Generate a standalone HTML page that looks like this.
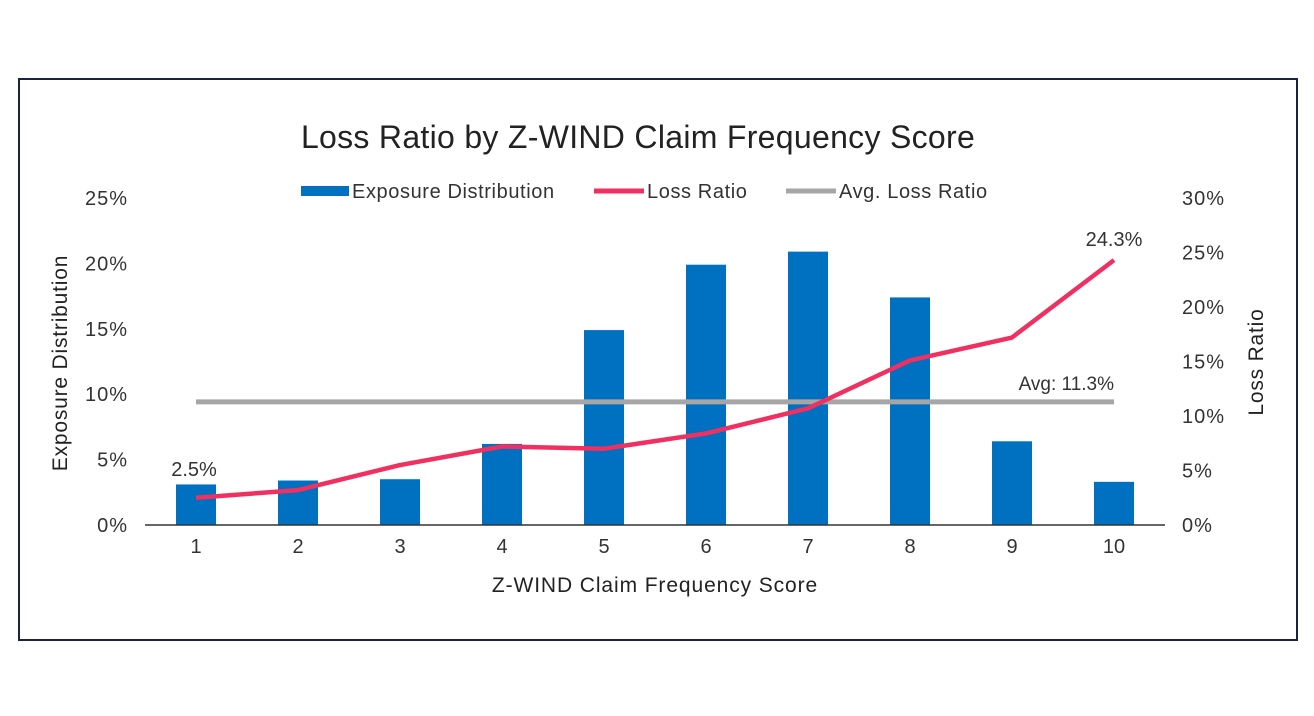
<!DOCTYPE html>
<html><head><meta charset="utf-8"><style>
body{margin:0;background:#fff;width:1314px;height:716px;overflow:hidden;font-family:"Liberation Sans",sans-serif}
#frame{position:absolute;left:18px;top:78px;width:1276px;height:559px;border:2px solid #1a2346}
</style></head><body>
<div id="frame"></div>
<svg id="chart" width="1314" height="716" style="position:absolute;left:0;top:0">
<text x="638" y="148" font-size="32" letter-spacing="0.3" text-anchor="middle" fill="#222">Loss Ratio by Z-WIND Claim Frequency Score</text>
<g font-size="20" letter-spacing="0.6" fill="#333">
<rect x="301" y="186" width="48" height="10" fill="#0070c0"/>
<text x="352" y="198">Exposure Distribution</text>
<line x1="594" y1="191" x2="644" y2="191" stroke="#f03060" stroke-width="5"/>
<text x="647" y="198">Loss Ratio</text>
<line x1="786" y1="191" x2="836" y2="191" stroke="#a6a6a6" stroke-width="5"/>
<text x="839" y="198">Avg. Loss Ratio</text>
</g>
<text transform="translate(67,363) rotate(-90)" font-size="21" letter-spacing="0.8" text-anchor="middle" fill="#222">Exposure Distribution</text>
<text transform="translate(1263,362) rotate(-90)" font-size="21" letter-spacing="0.8" text-anchor="middle" fill="#222">Loss Ratio</text>
<text x="655" y="592" font-size="21" letter-spacing="0.9" text-anchor="middle" fill="#222">Z-WIND Claim Frequency Score</text>
<g id="g"></g>
</svg>
<script>
const categories=["1","2","3","4","5","6","7","8","9","10"];
const exposure=[3.1,3.4,3.5,6.2,14.9,19.9,20.9,17.4,6.4,3.3];
const lossRatio=[2.5,3.2,5.5,7.2,7.0,8.4,10.7,15.1,17.2,24.3];
const avgLoss=[11.3];
const leftTicks=[0,5,10,15,20,25];
const rightTicks=[0,5,10,15,20,25,30];
const NS="http://www.w3.org/2000/svg";
const g=document.getElementById('g');
const y0=525,yTop=198;
const yL=v=>y0-(v/25)*(y0-yTop);
const yR=v=>y0-(v/30)*(y0-yTop);
const xC=i=>196+i*102;
function mk(t,a){const e=document.createElementNS(NS,t);for(const k in a)e.setAttribute(k,a[k]);g.appendChild(e);return e;}
leftTicks.forEach(v=>{const t=mk('text',{x:128,y:yL(v)+7,'font-size':20,'letter-spacing':1,'text-anchor':'end',fill:'#333'});t.textContent=v+'%';

});
rightTicks.forEach(v=>{const t=mk('text',{x:1182,y:yR(v)+7,'font-size':20,'letter-spacing':1,fill:'#333'});t.textContent=v+'%';

});
exposure.forEach((v,i)=>{const r=mk('rect',{x:xC(i)-20,y:yL(v),width:40,height:y0-yL(v),fill:'#0070c0'});

});
const ax=mk('line',{x1:145,y1:y0,x2:1165,y2:y0,stroke:'#333','stroke-width':1.5});


categories.forEach((c,i)=>{const t=mk('text',{x:xC(i),y:553,'font-size':20,'text-anchor':'middle',fill:'#333'});t.textContent=c;

});
const ay=yR(avgLoss[0]);
const al=mk('line',{x1:xC(0),y1:ay,x2:xC(9),y2:ay,stroke:'#a6a6a6','stroke-width':5});


const at=mk('text',{x:xC(9),y:ay-12,'font-size':19,'text-anchor':'end',fill:'#333'});at.textContent='Avg: '+avgLoss[0]+'%';


const pl=mk('polyline',{points:lossRatio.map((v,i)=>xC(i)+','+yR(v)).join(' '),fill:'none',stroke:'#f03060','stroke-width':4.5,'stroke-linejoin':'round'});


const l1=mk('text',{x:xC(0)-2,y:yR(lossRatio[0])-22,'font-size':20,'text-anchor':'middle',fill:'#333'});l1.textContent=lossRatio[0]+'%';


const l2=mk('text',{x:xC(9),y:yR(lossRatio[9])-14,'font-size':20,'text-anchor':'middle',fill:'#333'});l2.textContent=lossRatio[9]+'%';


</script>
</body></html>
